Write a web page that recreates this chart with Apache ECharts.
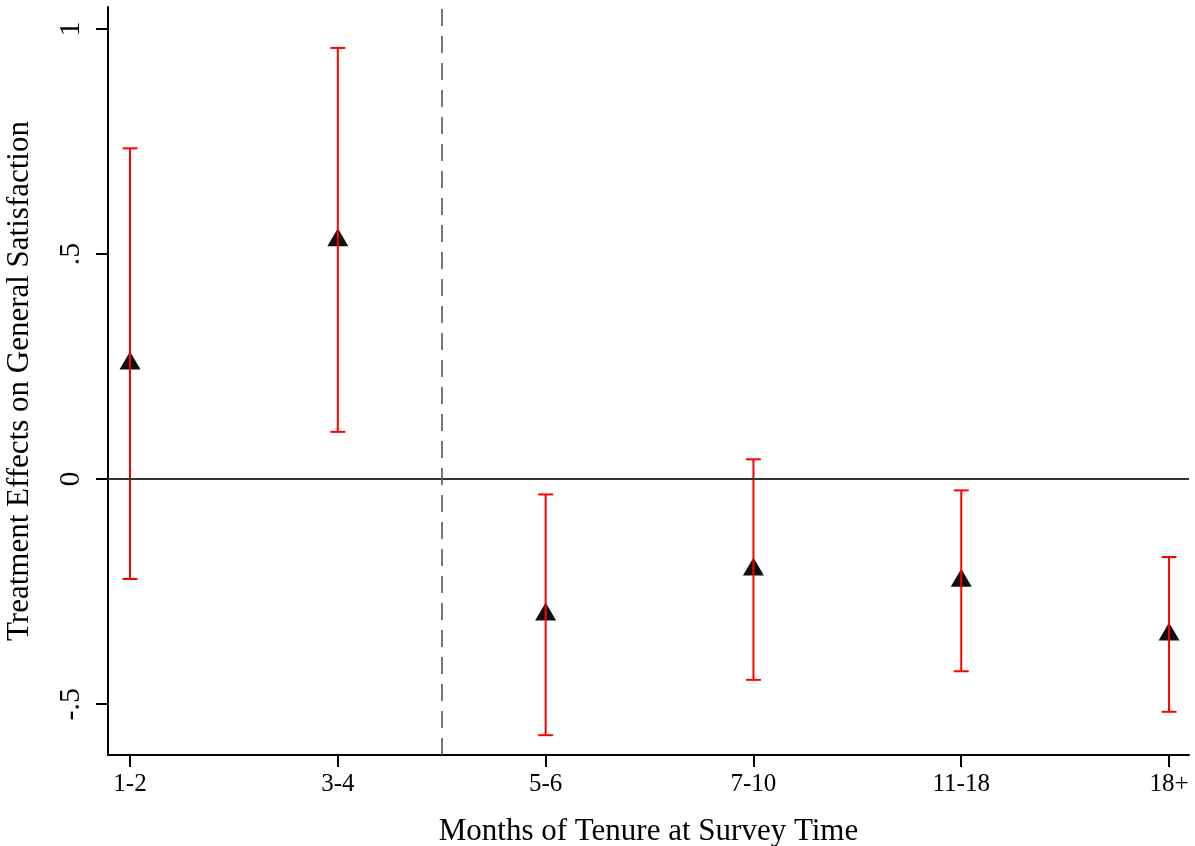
<!DOCTYPE html>
<html>
<head>
<meta charset="utf-8">
<script src="https://cdn.jsdelivr.net/npm/echarts@6/dist/echarts.min.js"></script>
<style>
  html, body { margin: 0; padding: 0; background: #fff; }
  #chart { width: 1195px; height: 846px; }
</style>
</head>
<body>
<div id="chart"></div>
<script>
// categories (x positions 1..6)
var arrCategories = ['1-2', '3-4', '5-6', '7-10', '11-18', '18+'];
// point estimates
var arrEstimate = [0.257, 0.531, -0.301, -0.201, -0.226, -0.345];
// 95% CI bounds
var arrLower = [-0.222, 0.105, -0.569, -0.446, -0.427, -0.517];
var arrUpper = [0.735, 0.958, -0.034, 0.044, -0.025, -0.173];
// y ticks
var arrYTicks = [-0.5, 0, 0.5, 1];
var arrYTickLabels = ['-.5', '0', '.5', '1'];
var fCutoff = 2.5;

var strFont = '"Liberation Serif", "Times New Roman", serif';

var arrPoints = [];
var arrBars = [];
for (var i = 0; i < arrCategories.length; i++) {
    arrPoints.push([i + 1, arrEstimate[i]]);
    arrBars.push([i + 1, arrLower[i], arrUpper[i]]);
}

var m_oChart = echarts.init(document.getElementById('chart'));

var option = {
    backgroundColor: '#fff',
    animation: false,
    grid: { left: 108, right: 6, top: 7, bottom: 91, outerBoundsMode: 'none', containLabel: false },
    xAxis: {
        type: 'value',
        min: 0.894,
        max: 6.096,
        name: 'Months of Tenure at Survey Time',
        nameLocation: 'middle',
        nameGap: 61,
        nameTextStyle: { fontFamily: strFont, fontSize: 31, color: '#000' },
        splitLine: { show: false },
        axisLine: { show: true, onZero: false, lineStyle: { color: '#000', width: 2 } },
        axisTick: {
            show: true, length: 12, inside: false,
            lineStyle: { color: '#000', width: 2 },
            customValues: [1, 2, 3, 4, 5, 6]
        },
        axisLabel: {
            fontFamily: strFont, fontSize: 25, color: '#000', margin: 17,
            customValues: [1, 2, 3, 4, 5, 6],
            formatter: function (v) { return arrCategories[Math.round(v) - 1]; }
        }
    },
    yAxis: {
        type: 'value',
        min: -0.613,
        max: 1.049,
        name: 'Treatment Effects on General Satisfaction',
        nameLocation: 'middle',
        nameGap: 73,
        nameTextStyle: { fontFamily: strFont, fontSize: 31, color: '#000' },
        splitLine: { show: false },
        axisLine: { show: true, onZero: false, lineStyle: { color: '#000', width: 2 } },
        axisTick: {
            show: true, length: 12, inside: false,
            lineStyle: { color: '#000', width: 2 },
            customValues: arrYTicks
        },
        axisLabel: {
            fontFamily: strFont, fontSize: 30, color: '#000', margin: 22,
            rotate: 90,
            customValues: arrYTicks,
            formatter: function (v) {
                var idx = arrYTicks.indexOf(Math.round(v * 10) / 10);
                return idx >= 0 ? arrYTickLabels[idx] : '';
            }
        }
    },
    series: [
        {
            type: 'scatter',
            data: arrPoints,
            symbol: 'triangle',
            symbolSize: [21, 18],
            symbolOffset: [0, -3],
            itemStyle: { color: '#111', opacity: 1 },
            z: 3,
            markLine: {
                silent: true,
                symbol: ['none', 'none'],
                label: { show: false },
                data: [
                    { yAxis: 0, lineStyle: { color: '#333', width: 2, type: 'solid' } },
                    { xAxis: fCutoff, lineStyle: { color: '#555', width: 1.6, type: [17, 10] } }
                ]
            }
        },
        {
            type: 'custom',
            data: arrBars,
            z: 4,
            renderItem: function (params, api) {
                var x = api.value(0);
                var pLo = api.coord([x, api.value(1)]);
                var pHi = api.coord([x, api.value(2)]);
                var w = 7.5;
                var st = { stroke: '#ff0000', lineWidth: 2 };
                return {
                    type: 'group',
                    children: [
                        { type: 'line', shape: { x1: pLo[0], y1: pLo[1], x2: pHi[0], y2: pHi[1] }, style: st },
                        { type: 'line', shape: { x1: pLo[0] - w, y1: pLo[1], x2: pLo[0] + w, y2: pLo[1] }, style: st },
                        { type: 'line', shape: { x1: pHi[0] - w, y1: pHi[1], x2: pHi[0] + w, y2: pHi[1] }, style: st }
                    ]
                };
            }
        }
    ]
};

m_oChart.setOption(option);
</script>
</body>
</html>
